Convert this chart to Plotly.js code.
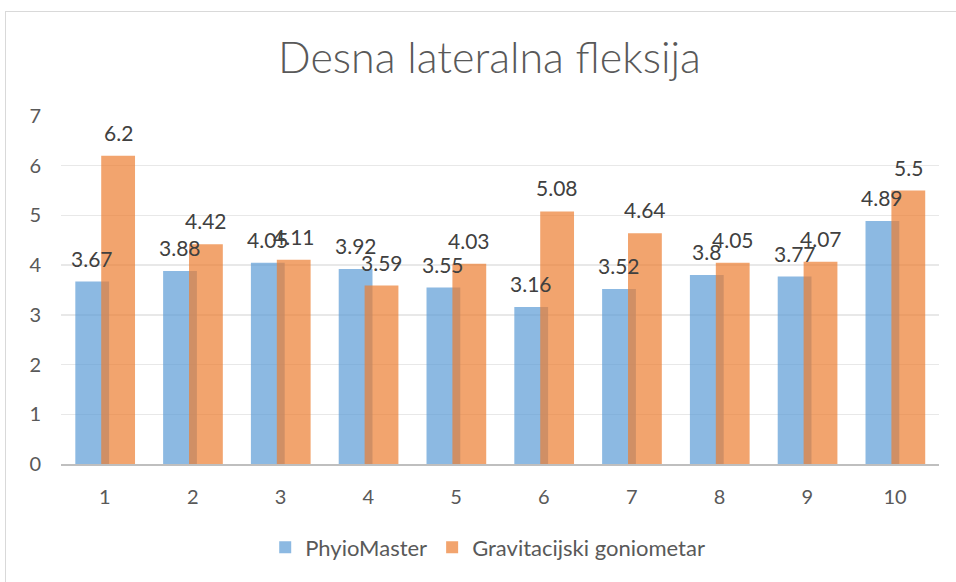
<!DOCTYPE html>
<html>
<head>
<meta charset="utf-8">
<script src="https://cdn.plot.ly/plotly-3.0.1.min.js"></script>
<style>
html,body{margin:0;padding:0;background:#fff;}
#wrap{position:relative;width:956px;height:582px;overflow:hidden;}
#chart{width:956px;height:582px;}
#frame{position:absolute;left:5px;top:11px;width:980px;height:600px;border:1.5px solid #d9d9d9;pointer-events:none;}
</style>
</head>
<body>
<div id="wrap"><div id="chart"></div><div id="frame"></div></div>
<script>
const categories = [1, 2, 3, 4, 5, 6, 7, 8, 9, 10];
const seriesNames = ["PhyioMaster", "Gravitacijski goniometar"];
const physioMaster = [3.67, 3.88, 4.05, 3.92, 3.55, 3.16, 3.52, 3.8, 3.77, 4.89];
const goniometar = [6.2, 4.42, 4.11, 3.59, 4.03, 5.08, 4.64, 4.05, 4.07, 5.5];
const yTicks = [0, 1, 2, 3, 4, 5, 6, 7];

const BAR_W = 0.385;
const OFF_BLUE = -0.337;
const OFF_ORANGE = -0.042;
const FONT = "Lato, Open Sans, sans-serif";

const traces = [
  {type: "bar", name: seriesNames[0], x: categories, y: physioMaster,
   width: BAR_W, offset: OFF_BLUE,
   marker: {color: "rgba(91,155,213,0.7)", line: {width: 0}}, hoverinfo: "y"},
  {type: "bar", name: seriesNames[1], x: categories, y: goniometar,
   width: BAR_W, offset: OFF_ORANGE,
   marker: {color: "rgba(237,125,49,0.7)", line: {width: 0}}, hoverinfo: "y"}
];

const annotations = [];
categories.forEach((c, i) => {
  annotations.push({x: c + OFF_BLUE + BAR_W / 2, y: physioMaster[i], xref: "x", yref: "y",
    text: String(physioMaster[i]), showarrow: false, yanchor: "middle", yshift: 23.5,
    font: {family: FONT, size: 21, color: "#404040"}});
  annotations.push({x: c + OFF_ORANGE + BAR_W / 2, y: goniometar[i], xref: "x", yref: "y",
    text: String(goniometar[i]), showarrow: false, yanchor: "middle", yshift: 23.5,
    font: {family: FONT, size: 21, color: "#404040"}});
});

const layout = {
  width: 956, height: 582,
  margin: {l: 61, r: 17, t: 116, b: 117.5},
  paper_bgcolor: "#fff", plot_bgcolor: "#fff",
  barmode: "overlay",
  title: {text: "Desna lateralna fleksija", x: 0.512, xanchor: "center", y: 0.9, yanchor: "middle",
          yref: "container",
          font: {family: FONT, size: 43, color: "#595959", weight: 300}},
  xaxis: {range: [0.5, 10.5], tickvals: categories, ticktext: categories.map(String),
          showgrid: false, zeroline: false, showline: true, linecolor: "#bfbfbf", linewidth: 2,
          ticks: "", ticklabelstandoff: 14,
          tickfont: {family: FONT, size: 20, color: "#595959"}, fixedrange: true},
  yaxis: {range: [0, 7], tickvals: yTicks, showgrid: true, gridcolor: "#e8e8e8", gridwidth: 1.5,
          zeroline: false, showline: false, ticks: "", ticklabelstandoff: 19,
          tickfont: {family: FONT, size: 20, color: "#595959"}, fixedrange: true},
  showlegend: true,
  legend: {orientation: "h", x: 0.486, xanchor: "center", y: -0.24, yanchor: "middle",
           font: {family: FONT, size: 22, color: "#595959"}, itemwidth: 30,
           traceorder: "normal"},
  annotations: annotations
};

Plotly.newPlot("chart", traces, layout, {displayModeBar: false, staticPlot: true});
</script>
</body>
</html>
